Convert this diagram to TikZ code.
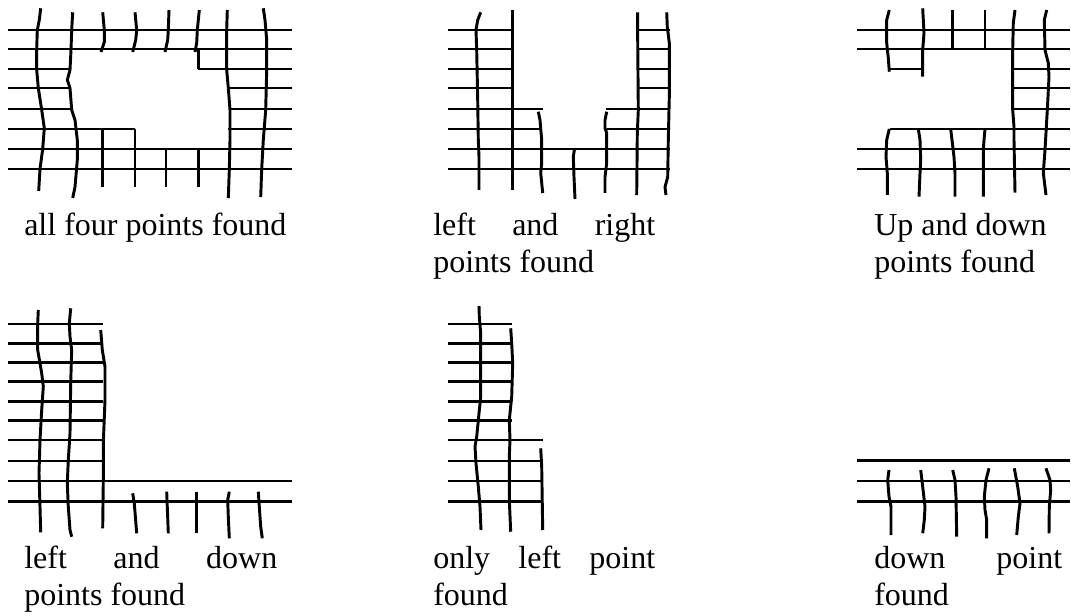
\documentclass[tikz,border=0pt]{standalone}
\usepackage{fontspec}
\setmainfont{Liberation Serif}
\begin{document}
\begin{tikzpicture}[x=0.75pt,y=-0.75pt,
  gl/.style={line width=2.2pt,line join=round},
  lbl/.style={anchor=base west,inner sep=0pt,font=\fontsize{24}{27.75}\selectfont}]
\path[use as bounding box] (0,0) rectangle (1071,616);

% ---------------- Panel 1: all four points found
\begin{scope}[gl]
\foreach \y in {30,49,149,169} \draw (8,\y) -- (292,\y);
\draw (8,69) -- (70,69);  \draw (198,69) -- (292,69);
\draw (8,88) -- (70,88);  \draw (228,88) -- (292,88);
\draw (8,109) -- (71,109); \draw (229,109) -- (292,109);
\draw (8,129) -- (135,129); \draw (228,129) -- (292,129);
\draw (40.7,8.3) -- (39.3,20) -- (37.3,30) -- (36.7,49) -- (36.7,70) -- (38.3,88) -- (41.7,110) -- (44.3,128) -- (42.7,149) -- (40,169) -- (38.7,191);
\draw (72.7,12.3) -- (71.7,30) -- (71,50) -- (70,70) -- (67.3,80) -- (70,88) -- (71.7,110) -- (75,120) -- (77.3,140) -- (77.3,160) -- (75,187) -- (72.7,198);
\draw (102.7,12.3) -- (104.3,30) -- (104.3,42) -- (101,52);
\draw (135,12.3) -- (136.7,30) -- (135.7,40) -- (132.7,52);
\draw (169,10) -- (168.3,30) -- (167.7,40) -- (165,52);
\draw (199.3,10) -- (197.3,30) -- (196.7,43) -- (195,52);
\draw (198.3,49) -- (198.3,69);
\draw (227.3,10) -- (226.7,30) -- (226.7,70) -- (228.3,88) -- (230,110) -- (230,140) -- (229.3,170) -- (228.3,198);
\draw (263.3,8.3) -- (265,20) -- (266.7,40) -- (266.7,70) -- (265.7,110) -- (263.3,140) -- (261.7,169) -- (260.7,197);
\draw (102.3,129) -- (102.3,186.7);
\draw (135,129) -- (135,186.7);
\draw (166,149) -- (166,186.7);
\draw (198.3,149) -- (198.3,186.7);
\end{scope}
\node[lbl] (t1) at (24,236) {all four points found};

% ---------------- Panel 2: left and right points found
\begin{scope}[gl]
\foreach \y in {30,49,69,88} {\draw (448,\y) -- (512.3,\y); \draw (637.3,\y) -- (670,\y);}
\draw (448,109) -- (542.7,109); \draw (606,109) -- (670,109);
\draw (448,129) -- (541,129); \draw (607,129) -- (670,129);
\draw (448,149) -- (670,149); \draw (448,169) -- (670,169);
\draw (480.7,12.3) -- (477.7,20) -- (476,30) -- (476.7,50) -- (477.7,100) -- (478.3,140) -- (479,157) -- (479,190);
\draw (512.7,10) -- (512.7,190);
\draw (538.3,111.7) -- (540,120) -- (541.7,140) -- (541.7,163) -- (540.7,173) -- (542.7,193);
\draw (574.3,150) -- (573.3,157) -- (574,177) -- (575,199);
\draw (606.7,111.7) -- (605,120) -- (605,128) -- (606.7,133) -- (606.7,163) -- (605,177) -- (605,193);
\draw (637.7,12.3) -- (637.7,40) -- (638.3,110) -- (637.3,133) -- (636.7,195);
\draw (666.7,12.3) -- (667.3,27) -- (669.3,43) -- (669.3,97) -- (668.3,140) -- (667.7,177) -- (665,187) -- (666,195);
\end{scope}
\node[lbl] (t2a) at (433,236) {\makebox[166.5pt][s]{left and right}};
\node[lbl] (t2b) at (433,273) {points found};

% ---------------- Panel 3: Up and down points found
\begin{scope}[gl]
\foreach \y in {30,49,149,169} \draw (857,\y) -- (1070,\y);
\draw (889.3,69) -- (921,69); \draw (1013.3,69) -- (1070,69);
\draw (1013,88) -- (1070,88); \draw (1013,109) -- (1070,109);
\draw (890,129) -- (1070,129);
\draw (889.3,10) -- (886.7,20) -- (886.7,43) -- (888.3,58) -- (889.3,71.7);
\draw (922.7,8.3) -- (923.3,20) -- (924,33) -- (922.7,50) -- (922.7,76.7);
\draw (952.7,10) -- (952.7,49);
\draw (985,10) -- (985,49);
\draw (1015,10) -- (1013.3,23) -- (1012.7,49) -- (1012.7,110) -- (1014,127) -- (1014,140) -- (1015,192.7);
\draw (1046.7,10) -- (1044.3,20) -- (1045,50) -- (1048.3,63) -- (1049,77) -- (1047.3,110) -- (1045,150) -- (1043.3,173) -- (1046,195);
\draw (889.3,129) -- (886.7,140) -- (886,157) -- (887.3,173) -- (887.3,195);
\draw (918.3,129) -- (920,140) -- (920.7,160) -- (920,173) -- (919,196.7);
\draw (950.7,129) -- (952,140) -- (954,157) -- (955,173) -- (955,196.7);
\draw (985,129) -- (984,140) -- (983.3,150) -- (983.3,196.7);
\end{scope}
\node[lbl] (t3a) at (874,236) {Up and down};
\node[lbl] (t3b) at (874,273) {points found};

% ---------------- Panel 4: left and down points found
\begin{scope}[gl]
\foreach \y in {324,343.3,362.7,381.7,401.7,420.7,440,461} \draw (8,\y) -- (102.7,\y);
\draw (8,481) -- (292,481); \draw (8,501.7) -- (292,501.7);
\draw (38.3,310) -- (37.7,323.3) -- (37.7,350) -- (41.7,373.3) -- (43.3,386.7) -- (41.7,410) -- (40,440) -- (39,473.3) -- (40,506.7) -- (40.7,532.3);
\draw (70.7,308.3) -- (69.3,323.3) -- (70,336.7) -- (71.7,350) -- (70.7,383.3) -- (70,433.3) -- (68.3,460) -- (67.3,483.3) -- (68.3,506.7) -- (70,530) -- (71.7,536.7);
\draw (100.7,330) -- (102.3,350) -- (105,366.7) -- (105,400) -- (103.3,443.3) -- (103.3,480) -- (102.7,528.3);
\draw (132.7,493.3) -- (134.3,503.3) -- (136.7,533.3);
\draw (166.7,491.7) -- (168.3,533.3);
\draw (196.7,491.7) -- (196.7,532.7);
\draw (229.3,491.7) -- (227.7,500) -- (228.3,516.7) -- (229.3,538.3);
\draw (258.3,491.7) -- (259.3,506.7) -- (260.7,526.7) -- (262.3,538.3);
\end{scope}
\node[lbl] (t4a) at (24,568) {\makebox[189.75pt][s]{left and down}};
\node[lbl] (t4b) at (24,605) {points found};

% ---------------- Panel 5: only left point found
\begin{scope}[gl]
\foreach \y in {324,343.3,362.7,381.7,401.7,420.7} \draw (448.3,\y) -- (511.7,\y);
\foreach \y in {440,461,481,501.7} \draw (448.3,\y) -- (543,\y);
\draw (479,306) -- (479.3,316.7) -- (480.7,333.3) -- (480.7,396.7) -- (479,413.3) -- (476.7,436.7) -- (475,446.7) -- (476,463.3) -- (478.3,486.7) -- (480,506.7) -- (481,530);
\draw (510.7,328.3) -- (511.7,343.3) -- (512.7,363.3) -- (511.7,396.7) -- (509.3,420) -- (510,440) -- (509.3,456.7) -- (509.3,500) -- (510.7,531.7);
\draw (540.7,448.3) -- (541.7,466.7) -- (542.7,530);
\end{scope}
\node[lbl] (t5a) at (433,568) {\makebox[166.5pt][s]{only left point}};
\node[lbl] (t5b) at (433,605) {found};

% ---------------- Panel 6: down point found
\begin{scope}[gl]
\foreach \y in {460.7,481,501.7} \draw (857,\y) -- (1070,\y);
\draw (889,470) -- (887.7,480) -- (889,496.7) -- (891,506.7) -- (891,535);
\draw (920.7,470) -- (922.7,486.7) -- (925,506.7) -- (924.3,520) -- (922.7,533.3);
\draw (952.7,470) -- (955,480) -- (956,496.7) -- (956.7,536.7);
\draw (989,468.3) -- (986,480) -- (984.3,496.7) -- (985,510) -- (986.7,520) -- (986.7,538.3);
\draw (1014.3,468.3) -- (1017.7,486.7) -- (1020,503.3) -- (1018.3,516.7) -- (1016.7,535);
\draw (1046,468.3) -- (1050,480) -- (1050.7,490) -- (1049.3,506.7) -- (1049,533.3);
\end{scope}
\node[lbl] (t6a) at (874,568) {\makebox[141pt][s]{down point}};
\node[lbl] (t6b) at (874,605) {found};
\end{tikzpicture}
\end{document}
